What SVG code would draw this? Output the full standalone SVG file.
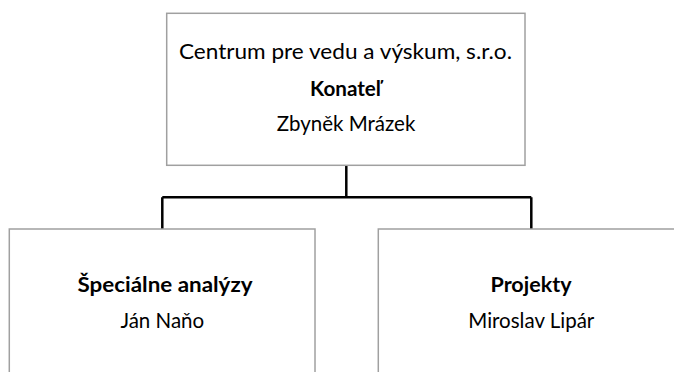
<svg xmlns="http://www.w3.org/2000/svg" width="674" height="372" viewBox="0 0 674 372">
<style>
.box{fill:#fff;stroke:#a0a0a0;stroke-width:1.5}
.t{font-family:Lato,"Open Sans","Liberation Sans",sans-serif;font-size:20.5px;fill:#000;text-anchor:middle}
.b{font-weight:bold;font-size:20.5px}
.c{fill:none;stroke:#000;stroke-width:2.5}
</style>
<rect width="674" height="372" fill="#fff"/>
<g id="connectors">
<path class="c" d="M346.3 165.5V197.3M162.3 197.3H531.3M162.3 197.3V229M531.3 197.3V229"/>
</g>
<g id="top">
<rect class="box" x="166.7" y="13.3" width="358.3" height="152"/>
<text class="t" x="345.5" y="59" textLength="333" lengthAdjust="spacingAndGlyphs">Centrum pre vedu a výskum, s.r.o.</text>
<text class="t b" x="345.5" y="95.5" textLength="71" lengthAdjust="spacingAndGlyphs">Konateľ</text>
<text class="t" x="346" y="131">Zbyněk Mrázek</text>
</g>
<g id="left">
<rect class="box" x="9.3" y="229" width="305.7" height="160"/>
<text class="t b" x="165" y="291.5" textLength="175" lengthAdjust="spacingAndGlyphs">Špeciálne analýzy</text>
<text class="t" x="162.3" y="327.5">Ján Naňo</text>
</g>
<g id="right">
<rect class="box" x="378.3" y="229" width="305.7" height="160"/>
<text class="t b" x="531" y="291.5" textLength="81" lengthAdjust="spacingAndGlyphs">Projekty</text>
<text class="t" x="531.3" y="327.5">Miroslav Lipár</text>
</g>
</svg>
